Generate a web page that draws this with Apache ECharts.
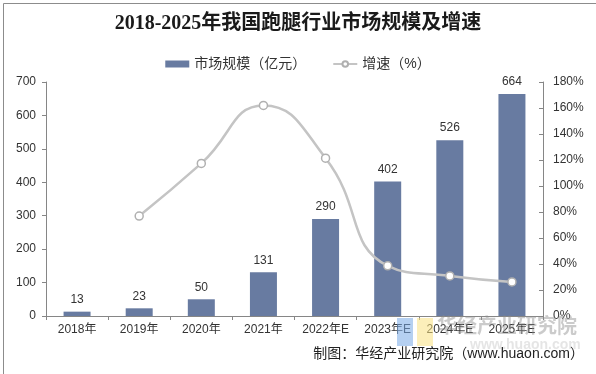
<!DOCTYPE html>
<html><head><meta charset="utf-8">
<script src="https://cdn.jsdelivr.net/npm/echarts@6/dist/echarts.min.js"></script>
<style>html,body{margin:0;padding:0;background:#fff}#c{width:596px;height:374px}</style>
</head><body><div id="c"></div>
<script>
var categories = ['2018年','2019年','2020年','2021年','2022年E','2023年E','2024年E','2025年E'];
var marketSize = [13, 23, 50, 131, 290, 402, 526, 664];
var growthRate = [null, 76.9, 117.4, 162.0, 121.4, 38.6, 30.8, 26.2];
var leftTicks = [0, 700, 100];
var rightTicks = [0, 180, 20];

var chart = echarts.init(document.getElementById('c'), null, {renderer: 'canvas'});
var font = 'Liberation Sans, Arial, Noto Sans CJK SC, sans-serif';
chart.setOption({
  animation: false,
  backgroundColor: '#fff',
  title: {
    text: '2018-2025年我国跑腿行业市场规模及增速',
    left: 'center', top: 9,
    textStyle: {fontFamily: 'Liberation Serif, Noto Sans CJK SC, serif', fontSize: 20, fontWeight: 'bold', color: '#1a1a1a'}
  },
  legend: {
    top: 52, left: 'center', itemGap: 26, itemWidth: 24, itemHeight: 7,
    textStyle: {fontFamily: font, fontSize: 14, color: '#333'},
    data: [
      {name: '市场规模（亿元）', icon: 'rect'},
      {name: '增速（%）'}
    ]
  },
  grid: {left: 46, right: 53, top: 82, bottom: 58, containLabel: false},
  xAxis: {
    type: 'category', data: categories,
    axisLine: {lineStyle: {color: '#868686'}},
    axisTick: {show: true, length: 4, lineStyle: {color: '#868686'}},
    axisLabel: {fontFamily: font, fontSize: 12, color: '#333', margin: 8, interval: 0}
  },
  yAxis: [
    {type: 'value', min: leftTicks[0], max: leftTicks[1], interval: leftTicks[2],
     axisLine: {show: true, lineStyle: {color: '#868686'}},
     axisTick: {show: true, length: 4, lineStyle: {color: '#868686'}},
     splitLine: {show: false},
     axisLabel: {fontFamily: font, fontSize: 12, color: '#333', margin: 10}},
    {type: 'value', min: rightTicks[0], max: rightTicks[1], interval: rightTicks[2], position: 'right',
     axisLine: {show: true, lineStyle: {color: '#868686'}},
     axisTick: {show: true, inside: true, length: 4, lineStyle: {color: '#868686'}},
     splitLine: {show: false},
     axisLabel: {fontFamily: font, fontSize: 12, color: '#333', margin: 10, formatter: '{value}%'}}
  ],
  series: [
    {name: '市场规模（亿元）', type: 'bar', data: marketSize, barWidth: 27,
     itemStyle: {color: '#687ba1'},
     label: {show: true, position: 'top', distance: 6, fontFamily: font, fontSize: 12, color: '#333'}},
    {name: '增速（%）', type: 'line', yAxisIndex: 1, data: growthRate, smooth: 0.5,
     symbol: 'circle', symbolSize: 8, showSymbol: true,
     lineStyle: {color: '#c4c4c4', width: 2.5},
     itemStyle: {color: '#fff', borderColor: '#b0b0b0', borderWidth: 1.5},
     z: 5}
  ],
  graphic: [
    {type: 'rect', left: 1, top: 1, shape: {width: 593, height: 371}, style: {fill: 'none', stroke: '#8c8c8c', lineWidth: 1}, silent: true},
    {type: 'rect', left: 397, top: 318, shape: {width: 16, height: 28}, style: {fill: 'rgba(120,170,230,0.55)'}, z: 100},
    {type: 'rect', left: 417, top: 318, shape: {width: 16, height: 28}, style: {fill: 'rgba(250,225,130,0.55)'}, z: 100},
    {type: 'text', left: 437, top: 315, style: {text: '华经产业研究院', fontFamily: 'Noto Sans CJK SC, sans-serif', fontSize: 20, fontWeight: 'bold', fill: 'rgba(140,140,140,0.45)'}, z: 100},
    {type: 'text', left: 470, top: 338, style: {text: 'www.huaon.com', fontFamily: font, fontSize: 14, fontWeight: 'bold', fill: 'rgba(170,170,170,0.3)'}, z: 100},
    {type: 'text', right: 12, top: 347, style: {text: '制图：华经产业研究院（www.huaon.com）', fontFamily: font, fontSize: 14, fill: '#222'}, z: 101}
  ]
});
</script></body></html>
